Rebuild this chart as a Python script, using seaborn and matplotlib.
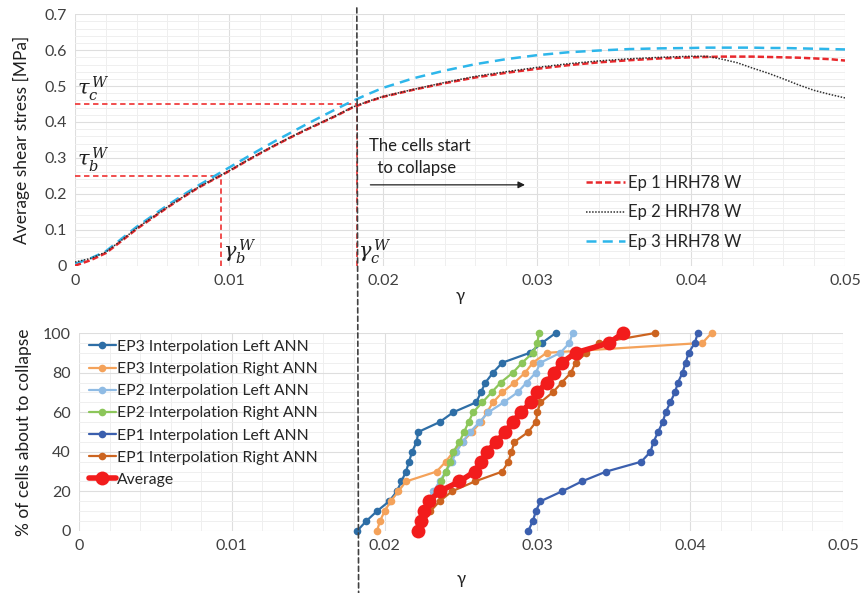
import matplotlib
matplotlib.use("Agg")
import matplotlib.pyplot as plt
import seaborn as sns
import numpy as np
import pandas as pd
from matplotlib.patches import ConnectionPatch

# ---------------- data: top chart ----------------
gamma_top = [0.000, 0.001, 0.002, 0.003, 0.004, 0.005, 0.006, 0.007, 0.008, 0.009,
             0.010, 0.011, 0.012, 0.013, 0.014, 0.015, 0.016, 0.017, 0.018, 0.019,
             0.020, 0.022, 0.024, 0.026, 0.028, 0.030, 0.032, 0.034, 0.036, 0.038,
             0.040, 0.041, 0.042, 0.043, 0.044, 0.045, 0.046, 0.047, 0.048, 0.049, 0.050]
ep1_stress = [0.000, 0.015, 0.035, 0.068, 0.102, 0.132, 0.162, 0.190, 0.217, 0.240,
              0.263, 0.288, 0.312, 0.335, 0.357, 0.378, 0.398, 0.418, 0.440, 0.456,
              0.470, 0.490, 0.508, 0.524, 0.537, 0.548, 0.558, 0.566, 0.572, 0.577,
              0.580, 0.581, 0.582, 0.582, 0.582, 0.581, 0.580, 0.579, 0.577, 0.575, 0.571]
ep2_stress = [0.010, 0.020, 0.038, 0.070, 0.104, 0.134, 0.163, 0.191, 0.218, 0.241,
              0.264, 0.289, 0.313, 0.336, 0.358, 0.379, 0.399, 0.419, 0.441, 0.457,
              0.471, 0.491, 0.510, 0.527, 0.540, 0.552, 0.562, 0.570, 0.576, 0.580,
              0.583, 0.583, 0.575, 0.565, 0.550, 0.536, 0.520, 0.503, 0.488, 0.477, 0.467]
ep3_stress = [0.005, 0.020, 0.040, 0.074, 0.108, 0.138, 0.168, 0.196, 0.223, 0.248,
              0.273, 0.298, 0.323, 0.347, 0.370, 0.393, 0.415, 0.437, 0.458, 0.477,
              0.495, 0.522, 0.543, 0.561, 0.575, 0.586, 0.594, 0.599, 0.603, 0.605,
              0.606, 0.607, 0.607, 0.607, 0.607, 0.606, 0.606, 0.605, 0.604, 0.603, 0.602]

# ---------------- data: bottom chart ----------------
pct = [0, 5, 10, 15, 20, 25, 30, 35, 40, 45, 50, 55, 60, 65, 70, 75, 80, 85, 90, 95, 100]
ep3_left = [0.0182, 0.0188, 0.0195, 0.0203, 0.0208, 0.0211, 0.0214, 0.0216, 0.0218, 0.0221,
            0.0222, 0.0236, 0.0245, 0.0260, 0.0263, 0.0266, 0.0271, 0.0277, 0.0295, 0.0303, 0.0312]
ep3_right = [0.0195, 0.0197, 0.0200, 0.0204, 0.0209, 0.0214, 0.0234, 0.0240, 0.0245, 0.0251,
             0.0257, 0.0263, 0.0267, 0.0271, 0.0277, 0.0285, 0.0292, 0.0297, 0.0306, 0.0408, 0.0414]
ep2_left = [0.0222, 0.0224, 0.0226, 0.0228, 0.0232, 0.0236, 0.0240, 0.0244, 0.0247, 0.0251,
            0.0256, 0.0262, 0.0268, 0.0278, 0.0287, 0.0293, 0.0299, 0.0302, 0.0315, 0.0321, 0.0323]
ep2_right = [0.0222, 0.0224, 0.0227, 0.0231, 0.0234, 0.0237, 0.0240, 0.0243, 0.0245, 0.0249,
             0.0252, 0.0255, 0.0258, 0.0264, 0.0270, 0.0276, 0.0284, 0.0290, 0.0297, 0.0300, 0.0301]
ep1_left = [0.0294, 0.0297, 0.0299, 0.0302, 0.0316, 0.0329, 0.0345, 0.0368, 0.0374, 0.0376,
            0.0379, 0.0382, 0.0384, 0.0387, 0.0390, 0.0392, 0.0395, 0.0397, 0.0399, 0.0403, 0.0405]
ep1_right = [0.0223, 0.0226, 0.0230, 0.0236, 0.0244, 0.0259, 0.0277, 0.0281, 0.0283, 0.0285,
             0.0294, 0.0299, 0.0300, 0.0302, 0.0310, 0.0316, 0.0322, 0.0325, 0.0332, 0.0340, 0.0377]
average = [0.0222, 0.0224, 0.0226, 0.0229, 0.0236, 0.0249, 0.0259, 0.0263, 0.0267, 0.0273,
           0.0279, 0.0284, 0.0289, 0.0296, 0.0300, 0.0306, 0.0311, 0.0316, 0.0325, 0.0347, 0.0356]

gamma_b, tau_b = 0.0095, 0.25
gamma_c, tau_c = 0.0183, 0.45

sns.set_theme(style="white")
plt.rcParams['font.family'] = ['Lato', 'DejaVu Sans']
plt.rcParams['mathtext.fontset'] = 'dejavuserif'

fig = plt.figure(figsize=(8.64, 5.93), dpi=100)
ax1 = fig.add_axes([0.0868, 0.552, 0.8912, 0.424])
ax2 = fig.add_axes([0.0914, 0.1046, 0.8843, 0.3338])

tick_col = '#404040'
for ax in (ax1, ax2):
    for s in ax.spines.values():
        s.set_visible(False)
    ax.tick_params(axis='both', length=0, labelsize=11.5, colors=tick_col, pad=6)
    ax.set_axisbelow(True)
    ax.grid(True, which='major', color='#dedede', linewidth=0.8)
    ax.grid(True, which='minor', color='#efefef', linewidth=0.7)

# ---------------- top chart ----------------
df_top = pd.DataFrame({'g': gamma_top, 'e1': ep1_stress, 'e2': ep2_stress, 'e3': ep3_stress})
sns.lineplot(data=df_top, x='g', y='e3', ax=ax1, color='#2db6ea', lw=1.8,
             linestyle=(0, (4, 2.5)), label='Ep 3 HRH78 W', zorder=3)
sns.lineplot(data=df_top, x='g', y='e2', ax=ax1, color='#303030', lw=1.1,
             linestyle=(0, (1, 1)), label='Ep 2 HRH78 W', zorder=4)
sns.lineplot(data=df_top, x='g', y='e1', ax=ax1, color='#e8282c', lw=1.8,
             linestyle=(0, (2.5, 1.2)), label='Ep 1 HRH78 W', zorder=3)

ref_kw = dict(color='#f04040', lw=1.3, linestyle=(0, (3, 2)), zorder=2)
ax1.plot([0, gamma_c], [tau_c, tau_c], **ref_kw)
ax1.plot([gamma_c, gamma_c], [0, tau_c], **ref_kw)
ax1.plot([0, gamma_b], [tau_b, tau_b], **ref_kw)
ax1.plot([gamma_b, gamma_b], [0, tau_b], **ref_kw)

mkw = dict(fontsize=15, color='#202020')
ax1.text(0.0001, tau_c + 0.004, r'$\tau_c^{\,W}$', ha='left', va='bottom', **mkw)
ax1.text(0.0001, tau_b + 0.004, r'$\tau_b^{\,W}$', ha='left', va='bottom', **mkw)
ax1.text(gamma_b + 0.0001, 0.0, r'$\gamma_b^{\,W}$', ha='left', va='bottom', **mkw)
ax1.text(gamma_c + 0.0001, 0.0, r'$\gamma_c^{\,W}$', ha='left', va='bottom', **mkw)

ax1.text(0.0191, 0.302, 'The cells start\n  to collapse', ha='left', va='center',
         fontsize=12, color='#202020', linespacing=1.45)
ax1.annotate('', xy=(0.0294, 0.225), xytext=(0.0190, 0.225),
             arrowprops=dict(arrowstyle='-|>', color='#202020', lw=0.9, mutation_scale=10))

ax1.set_xlim(0, 0.05)
ax1.set_ylim(0, 0.7)
ax1.set_xticks([0, 0.01, 0.02, 0.03, 0.04, 0.05])
ax1.set_xticklabels(['0', '0.01', '0.02', '0.03', '0.04', '0.05'])
ax1.set_yticks(np.arange(0, 0.71, 0.1))
ax1.set_yticklabels(['0', '0.1', '0.2', '0.3', '0.4', '0.5', '0.6', '0.7'])
ax1.set_xticks(np.arange(0, 0.0501, 0.002), minor=True)
ax1.set_yticks(np.arange(0, 0.701, 0.02), minor=True)
ax1.tick_params(which='minor', length=0)
ax1.set_xlabel('γ', fontsize=12, color='#202020', labelpad=0)
ax1.set_ylabel('Average shear stress [MPa]', fontsize=12.5, color='#202020', labelpad=10)

h, l = ax1.get_legend_handles_labels()
order = [2, 1, 0]
ax1.legend([h[i] for i in order], [l[i] for i in order], loc='upper left',
           bbox_to_anchor=(0.664, 0.36), frameon=False, fontsize=12, handlelength=2.3,
           handletextpad=0.2, labelspacing=0.8, borderpad=0, borderaxespad=0)

# ---------------- bottom chart ----------------
series = [
    ('EP3 Interpolation Left ANN', ep3_left, '#2e6ea6'),
    ('EP3 Interpolation Right ANN', ep3_right, '#f4a25a'),
    ('EP2 Interpolation Left ANN', ep2_left, '#8fbbe4'),
    ('EP2 Interpolation Right ANN', ep2_right, '#8cc65a'),
    ('EP1 Interpolation Left ANN', ep1_left, '#3b5fae'),
    ('EP1 Interpolation Right ANN', ep1_right, '#cc6420'),
]
for name, xs, col in series:
    d = pd.DataFrame({'x': xs, 'y': pct})
    sns.lineplot(data=d, x='x', y='y', ax=ax2, sort=False, estimator=None, color=col,
                 lw=1.6, marker='o', markersize=5.5, markeredgewidth=0, label=name,
                 zorder=3, clip_on=False)
d = pd.DataFrame({'x': average, 'y': pct})
sns.lineplot(data=d, x='x', y='y', ax=ax2, sort=False, estimator=None, color='#f21c1c',
             lw=4, marker='o', markersize=10, markeredgewidth=0, label='Average',
             zorder=4, clip_on=False)

ax2.set_xlim(0, 0.05)
ax2.set_ylim(0, 100)
ax2.set_xticks([0, 0.01, 0.02, 0.03, 0.04, 0.05])
ax2.set_xticklabels(['0', '0.01', '0.02', '0.03', '0.04', '0.05'])
ax2.set_yticks([0, 20, 40, 60, 80, 100])
ax2.set_xticks(np.arange(0, 0.0501, 0.002), minor=True)
ax2.set_yticks(np.arange(0, 100.1, 5), minor=True)
ax2.tick_params(which='minor', length=0)
ax2.set_xlabel('γ', fontsize=12, color='#202020', labelpad=13)
ax2.set_ylabel('% of cells about to collapse', fontsize=12.5, color='#202020', labelpad=8)
ax2.legend(loc='upper left', bbox_to_anchor=(0.013, 0.965), frameon=False, fontsize=11.3,
           handlelength=1.7, handletextpad=0.1, labelspacing=0.52, borderpad=0,
           borderaxespad=0)

# long vertical dashed line through both charts
con = ConnectionPatch(xyA=(gamma_c, 1.025), coordsA=ax1.get_xaxis_transform(),
                      xyB=(gamma_c, -0.32), coordsB=ax2.get_xaxis_transform(),
                      color='#404040', lw=1.2, linestyle=(0, (3, 2)), zorder=10)
fig.add_artist(con)

fig.savefig('out.png', dpi=100)
